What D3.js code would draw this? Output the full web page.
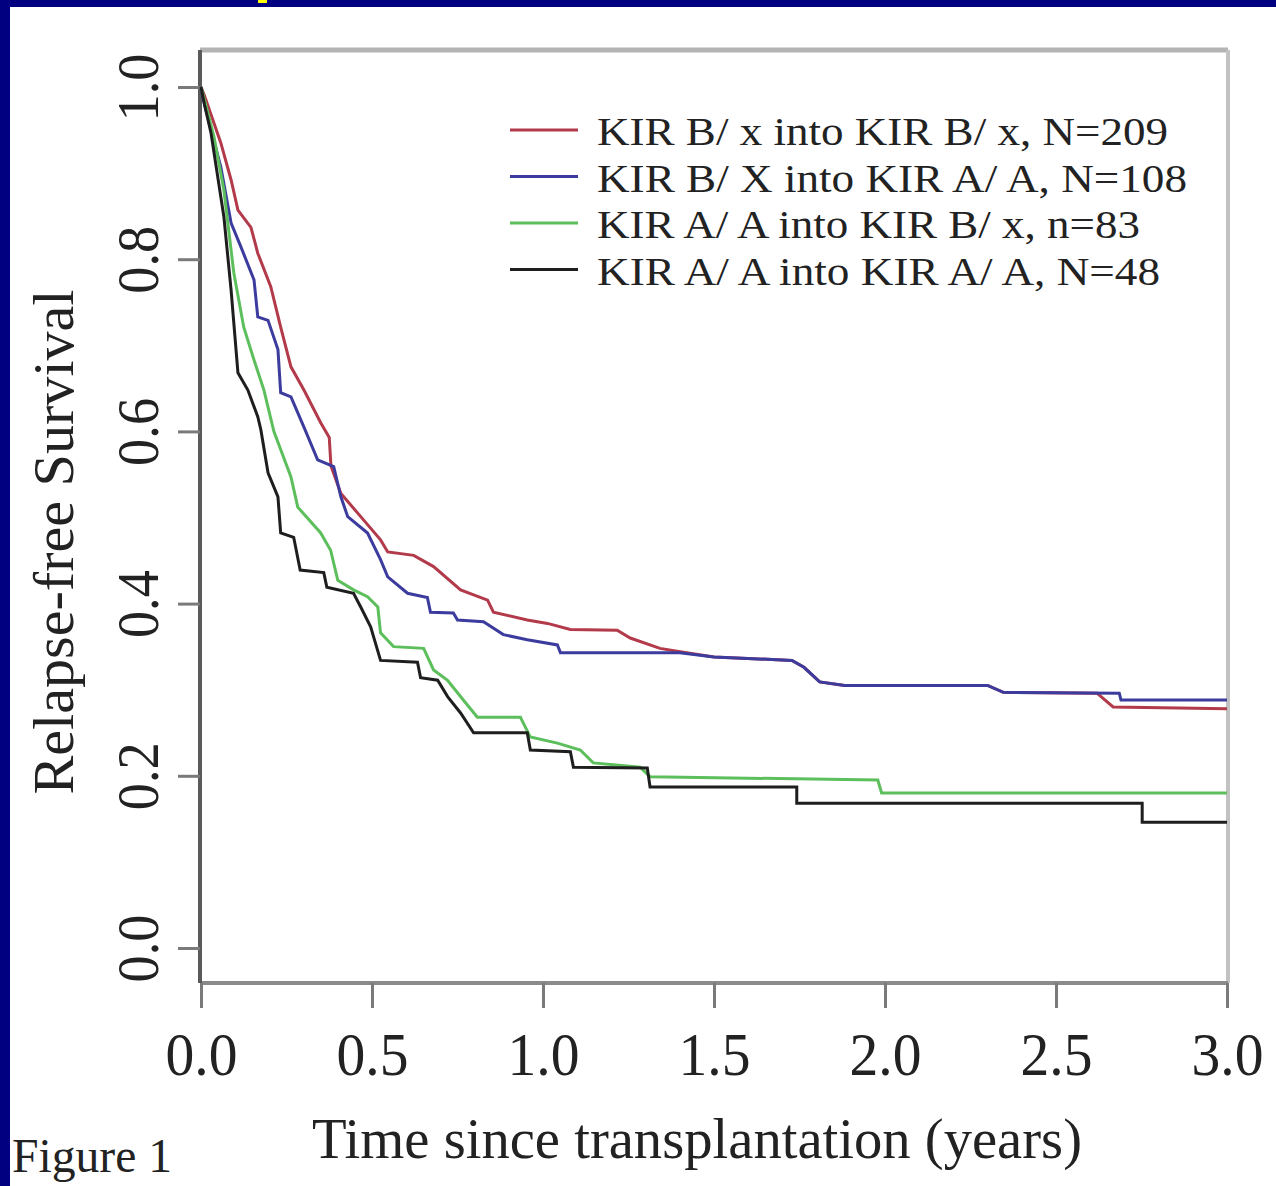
<!DOCTYPE html>
<html>
<head>
<meta charset="utf-8">
<script src="https://cdn.jsdelivr.net/npm/d3@7"></script>
<style>
  html, body { margin: 0; padding: 0; background: #000080; }
  svg { display: block; }
</style>
</head>
<body>
<div id="chart"></div>
<script>
// Kaplan-Meier curves: [years, relapse-free survival]
const seriesNames = [
  "KIR B/ x into KIR B/ x, N=209",
  "KIR B/ X into KIR A/ A, N=108",
  "KIR A/ A into KIR B/ x, n=83",
  "KIR A/ A into KIR A/ A, N=48"
];
const seriesColors = ["#b23a4a", "#3c3c9e", "#5cbf5c", "#1e1e1e"];

const bxIntoBx = [[0,1],[0.01,0.99],[0.058,0.935],[0.088,0.892],[0.108,0.857],[0.146,0.837],[0.166,0.807],
  [0.204,0.768],[0.233,0.721],[0.263,0.675],[0.301,0.648],[0.35,0.61],[0.375,0.593],[0.38,0.56],[0.409,0.528],
  [0.467,0.501],[0.525,0.474],[0.546,0.46],[0.622,0.456],[0.68,0.443],[0.759,0.416],[0.838,0.404],[0.855,0.39],
  [0.954,0.381],[1.013,0.377],[1.08,0.37],[1.217,0.369],[1.255,0.36],[1.342,0.348],[1.401,0.344],[1.5,0.338],
  [1.728,0.334],[1.763,0.326],[1.809,0.309],[1.882,0.305],[2.3,0.305],[2.346,0.297],[2.62,0.296],[2.667,0.28],[3.0,0.278]];

const bxIntoAA = [[0,1],[0.01,0.98],[0.058,0.907],[0.088,0.842],[0.117,0.814],[0.155,0.776],[0.166,0.733],
  [0.196,0.729],[0.225,0.695],[0.233,0.645],[0.263,0.64],[0.301,0.605],[0.341,0.567],[0.388,0.559],[0.409,0.524],
  [0.429,0.501],[0.487,0.482],[0.525,0.451],[0.546,0.431],[0.604,0.412],[0.662,0.407],[0.671,0.39],[0.738,0.389],
  [0.75,0.381],[0.826,0.379],[0.884,0.364],[0.954,0.358],[1.042,0.352],[1.051,0.343],[1.4,0.343],[1.5,0.338],
  [1.728,0.334],[1.763,0.326],[1.809,0.309],[1.882,0.305],[2.3,0.305],[2.346,0.297],[2.685,0.296],[2.69,0.288],[3.0,0.288]];

const aaIntoBx = [[0,1],[0.01,0.985],[0.038,0.942],[0.067,0.88],[0.096,0.784],[0.125,0.721],[0.155,0.683],
  [0.184,0.648],[0.213,0.6],[0.263,0.547],[0.283,0.512],[0.35,0.482],[0.379,0.462],[0.4,0.427],[0.446,0.416],
  [0.487,0.408],[0.517,0.396],[0.525,0.366],[0.563,0.35],[0.651,0.348],[0.68,0.323],[0.721,0.311],[0.767,0.288],
  [0.808,0.268],[0.934,0.268],[0.963,0.245],[1.042,0.238],[1.109,0.23],[1.147,0.215],[1.284,0.21],[1.313,0.199],
  [1.979,0.195],[1.99,0.18],[3.0,0.18]];

const aaIntoAA = [[0,1],[0.01,0.98],[0.029,0.947],[0.067,0.849],[0.088,0.764],[0.108,0.668],[0.137,0.648],
  [0.166,0.617],[0.175,0.602],[0.196,0.552],[0.225,0.524],[0.233,0.482],[0.271,0.477],[0.29,0.439],[0.359,0.436],
  [0.368,0.419],[0.446,0.412],[0.467,0.396],[0.496,0.373],[0.525,0.334],[0.633,0.332],[0.642,0.314],[0.692,0.311],
  [0.721,0.292],[0.759,0.273],[0.797,0.25],[0.954,0.25],[0.963,0.23],[1.08,0.228],[1.089,0.21],[1.305,0.209],
  [1.313,0.187],[1.742,0.187],[1.742,0.168],[2.752,0.168],[2.752,0.146],[3.0,0.146]];

const xTicks = [0, 0.5, 1.0, 1.5, 2.0, 2.5, 3.0];
const yTicks = [0, 0.2, 0.4, 0.6, 0.8, 1.0];

const width = 1276, height = 1186;
const font = "'Liberation Serif', 'Times New Roman', serif";

const svg = d3.select("#chart").append("svg")
    .attr("width", width)
    .attr("height", height);

// white page inside the navy frame
svg.append("rect")
    .attr("x", 10).attr("y", 7)
    .attr("width", width - 10).attr("height", height - 7)
    .attr("fill", "#fff");
svg.append("rect")
    .attr("x", 258).attr("y", 0).attr("width", 9).attr("height", 3)
    .attr("fill", "#ffff00");

// scales
const x = d3.scaleLinear().domain([0, 3]).range([201, 1227]);
const y = d3.scaleLinear().domain([0, 1]).range([948, 87]);

const boxLeft = 200, boxRight = 1228, boxTop = 50, boxBottom = 983;

// box
svg.append("line").attr("x1", boxLeft).attr("x2", boxRight).attr("y1", boxTop).attr("y2", boxTop)
    .attr("stroke", "#b4b4b4").attr("stroke-width", 5);
svg.append("line").attr("x1", boxRight).attr("x2", boxRight).attr("y1", boxTop).attr("y2", boxBottom)
    .attr("stroke", "#c2c2c2").attr("stroke-width", 4);
svg.append("line").attr("x1", boxLeft).attr("x2", boxRight).attr("y1", boxBottom).attr("y2", boxBottom)
    .attr("stroke", "#8a8a8a").attr("stroke-width", 4);
svg.append("line").attr("x1", boxLeft).attr("x2", boxLeft).attr("y1", boxTop).attr("y2", boxBottom)
    .attr("stroke", "#5a5a5a").attr("stroke-width", 4);

// y axis
const yAxis = svg.append("g")
    .attr("transform", `translate(${boxLeft},0)`)
    .call(d3.axisLeft(y).tickValues(yTicks).tickSize(22).tickFormat(d3.format(".1f")));
yAxis.select(".domain").remove();
yAxis.selectAll(".tick line").attr("stroke", "#7a7a7a").attr("stroke-width", 3);
yAxis.selectAll(".tick text")
    .attr("x", 0).attr("y", 0).attr("dy", null)
    .attr("transform", "translate(-42,0) rotate(-90)")
    .attr("text-anchor", "middle")
    .attr("font-family", font).attr("font-size", 60).attr("fill", "#222")
    .attr("textLength", 68).attr("lengthAdjust", "spacingAndGlyphs");

// x axis
const xAxis = svg.append("g")
    .attr("transform", `translate(0,${boxBottom})`)
    .call(d3.axisBottom(x).tickValues(xTicks).tickSize(25).tickFormat(d3.format(".1f")));
xAxis.select(".domain").remove();
xAxis.selectAll(".tick line").attr("stroke", "#7a7a7a").attr("stroke-width", 3);
xAxis.selectAll(".tick text")
    .attr("y", 92).attr("dy", null)
    .attr("font-family", font).attr("font-size", 62).attr("fill", "#222")
    .attr("textLength", 72).attr("lengthAdjust", "spacingAndGlyphs");

// axis titles
svg.append("text")
    .attr("x", 697).attr("y", 1158)
    .attr("text-anchor", "middle")
    .attr("font-family", font).attr("font-size", 58).attr("fill", "#222")
    .attr("textLength", 770).attr("lengthAdjust", "spacingAndGlyphs")
    .text("Time since transplantation (years)");

svg.append("text")
    .attr("transform", "translate(73,542) rotate(-90)")
    .attr("text-anchor", "middle")
    .attr("font-family", font).attr("font-size", 58).attr("fill", "#222")
    .attr("textLength", 505).attr("lengthAdjust", "spacingAndGlyphs")
    .text("Relapse-free Survival");

svg.append("text")
    .attr("x", 12).attr("y", 1172)
    .attr("font-family", font).attr("font-size", 48).attr("fill", "#222")
    .attr("textLength", 160).attr("lengthAdjust", "spacingAndGlyphs")
    .text("Figure 1");

// curves
const line = d3.line()
    .x(d => x(d[0]))
    .y(d => y(d[1]));

const curves = [bxIntoBx, bxIntoAA, aaIntoBx, aaIntoAA];
svg.append("g").selectAll("path")
    .data(curves)
    .enter()
    .append("path")
    .attr("d", line)
    .attr("fill", "none")
    .attr("stroke", (d, i) => seriesColors[i])
    .attr("stroke-width", 3)
    .attr("stroke-linejoin", "miter");

// legend
const legendWidths = [571, 590, 543, 563];
const legend = svg.append("g").selectAll("g")
    .data(seriesNames)
    .enter()
    .append("g")
    .attr("transform", (d, i) => `translate(0,${145 + i * 46.5})`);
legend.append("line")
    .attr("x1", 510).attr("x2", 578).attr("y1", -15).attr("y2", -15)
    .attr("stroke", (d, i) => seriesColors[i])
    .attr("stroke-width", 3);
legend.append("text")
    .attr("x", 597).attr("y", 0)
    .attr("font-family", font).attr("font-size", 41).attr("fill", "#222")
    .attr("textLength", (d, i) => legendWidths[i]).attr("lengthAdjust", "spacingAndGlyphs")
    .text(d => d);
</script>
</body>
</html>
